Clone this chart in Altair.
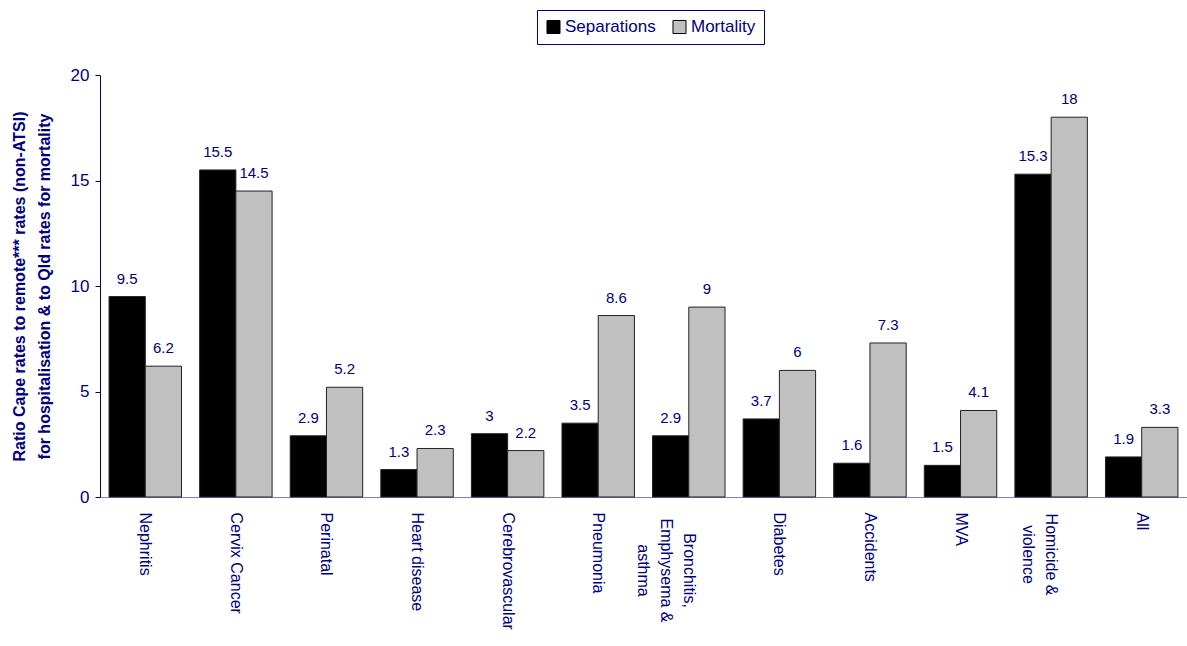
import altair as alt
import pandas as pd

categories = ["Nephritis", "Cervix Cancer", "Perinatal", "Heart disease", "Cerebrovascular",
              "Pneumonia", "Bronchitis,|Emphysema &|asthma", "Diabetes", "Accidents", "MVA",
              "Homicide &|violence", "All"]
series = ["Separations", "Mortality"]
separations = [9.5, 15.5, 2.9, 1.3, 3, 3.5, 2.9, 3.7, 1.6, 1.5, 15.3, 1.9]
mortality = [6.2, 14.5, 5.2, 2.3, 2.2, 8.6, 9, 6, 7.3, 4.1, 18, 3.3]
y_ticks = [0, 5, 10, 15, 20]

rows = []
for c, s, m in zip(categories, separations, mortality):
    rows.append({"cat": c, "series": "Separations", "value": s, "label": f"{s:g}"})
    rows.append({"cat": c, "series": "Mortality", "value": m, "label": f"{m:g}"})
df = pd.DataFrame(rows)

NAVY = "#000080"
FONT = "Liberation Sans"

multi_test = "indexof(datum.value, '|') >= 0"
bron_test = "indexof(datum.value, 'Bronchitis') >= 0"
homi_test = "indexof(datum.value, 'Homicide') >= 0"

x = alt.X("cat:N", sort=categories, title=None,
          scale=alt.Scale(paddingInner=0.2, paddingOuter=0.1),
          axis=alt.Axis(labelAngle=90, labelExpr="split(datum.label, '|')",
                        labelFont=FONT, labelFontSize=16, labelColor=NAVY,
                        ticks=False, domainColor="#8080c8",
                        labelLineHeight=23, labelBaseline="middle",
                        labelAlign={"condition": {"test": multi_test, "value": "center"},
                                    "value": "left"},
                        labelPadding={"condition": [
                            {"test": bron_test, "value": 73},
                            {"test": homi_test, "value": 57}],
                            "value": 15}))
y = alt.Y("value:Q", title=["Ratio Cape rates to remote*** rates (non-ATSI)",
                           "for hospitalisation & to Qld rates for mortality"],
          scale=alt.Scale(domain=[0, 20], nice=False),
          axis=alt.Axis(values=y_ticks, grid=False, domainColor=NAVY, tickColor=NAVY,
                        tickSize=5, labelFont=FONT, labelFontSize=17, labelColor=NAVY,
                        labelPadding=6, titleFont=FONT, titleFontSize=16,
                        titleFontWeight="bold", titleColor=NAVY, titlePadding=18,
                        titleLineHeight=25))

bars = alt.Chart(df).mark_bar(stroke="#222222", strokeWidth=1).encode(
    x=x, y=y,
    xOffset=alt.XOffset("series:N", sort=series),
    color=alt.Color("series:N", sort=series,
                    scale=alt.Scale(domain=series, range=["#000000", "#c0c0c0"]),
                    legend=alt.Legend(title=None, orient="none", legendX=437, legendY=-65,
                                      direction="horizontal", symbolType="square",
                                      symbolSize=170, symbolStrokeColor="#000000",
                                      symbolStrokeWidth=1, labelFont=FONT,
                                      labelFontSize=17, labelColor=NAVY,
                                      strokeColor=NAVY, padding=8, columnPadding=14,
                                      labelOffset=3)),
)

texts = alt.Chart(df).mark_text(dy=-13, font=FONT, fontSize=15, color=NAVY,
                                baseline="alphabetic").encode(
    x=alt.X("cat:N", sort=categories),
    xOffset=alt.XOffset("series:N", sort=series),
    y="value:Q",
    text="label:N",
)

chart = alt.layer(bars, texts).properties(
    width=1087, height=422,
    autosize=alt.AutoSizeParams(type="none"),
    padding={"left": 100, "top": 75, "right": 0, "bottom": 149},
).configure_view(stroke=None)

chart.save("out.html", embed_options={"renderer": "svg", "actions": False})
